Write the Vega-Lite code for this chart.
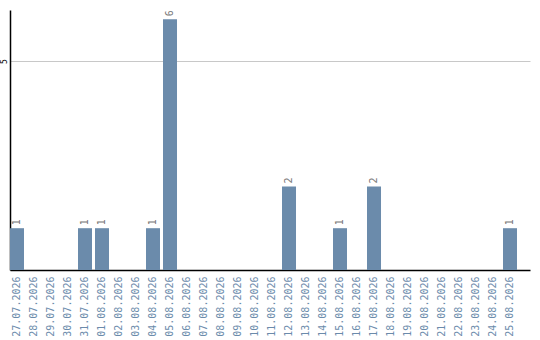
{
  "$schema": "https://vega.github.io/schema/vega-lite/v6.json",
  "width": 520,
  "height": 260,
  "autosize": {"type": "none"},
  "padding": {"left": 10, "top": 10, "right": 10, "bottom": 70},
  "background": "white",
  "config": {
    "view": {"stroke": null},
    "font": "DejaVu Sans Mono"
  },
  "data": {
    "values": [
      {"date": "27.07.2026", "count": 1},
      {"date": "28.07.2026", "count": 0},
      {"date": "29.07.2026", "count": 0},
      {"date": "30.07.2026", "count": 0},
      {"date": "31.07.2026", "count": 1},
      {"date": "01.08.2026", "count": 1},
      {"date": "02.08.2026", "count": 0},
      {"date": "03.08.2026", "count": 0},
      {"date": "04.08.2026", "count": 1},
      {"date": "05.08.2026", "count": 6},
      {"date": "06.08.2026", "count": 0},
      {"date": "07.08.2026", "count": 0},
      {"date": "08.08.2026", "count": 0},
      {"date": "09.08.2026", "count": 0},
      {"date": "10.08.2026", "count": 0},
      {"date": "11.08.2026", "count": 0},
      {"date": "12.08.2026", "count": 2},
      {"date": "13.08.2026", "count": 0},
      {"date": "14.08.2026", "count": 0},
      {"date": "15.08.2026", "count": 1},
      {"date": "16.08.2026", "count": 0},
      {"date": "17.08.2026", "count": 2},
      {"date": "18.08.2026", "count": 0},
      {"date": "19.08.2026", "count": 0},
      {"date": "20.08.2026", "count": 0},
      {"date": "21.08.2026", "count": 0},
      {"date": "22.08.2026", "count": 0},
      {"date": "23.08.2026", "count": 0},
      {"date": "24.08.2026", "count": 0},
      {"date": "25.08.2026", "count": 1}
    ]
  },
  "encoding": {
    "x": {
      "field": "date",
      "type": "ordinal",
      "sort": null,
      "scale": {"paddingInner": 0.176, "paddingOuter": 0.382, "align": 0},
      "axis": {
        "title": null,
        "labelAngle": -90,
        "labelAlign": "right",
        "labelBaseline": "middle",
        "labelColor": "#6b8bab",
        "labelFont": "DejaVu Sans Mono",
        "labelFontSize": 10,
        "labelPadding": 6,
        "ticks": false,
        "domainColor": "#000000",
        "domainWidth": 1.5,
        "grid": false
      }
    },
    "y": {
      "field": "count",
      "type": "quantitative",
      "scale": {"domain": [0, 6.22], "nice": false},
      "axis": {
        "title": null,
        "values": [5],
        "labelAngle": -90,
        "labelAlign": "center",
        "labelBaseline": "bottom",
        "labelFontSize": 8,
        "labelColor": "#000000",
        "labelPadding": 2,
        "ticks": false,
        "domainColor": "#000000",
        "domainWidth": 1.5,
        "grid": true,
        "gridColor": "#c8c8c8",
        "gridWidth": 1
      }
    }
  },
  "layer": [
    {
      "mark": {"type": "bar", "color": "#6b8bab"}
    },
    {
      "transform": [{"filter": "datum.count > 0"}],
      "mark": {
        "type": "text",
        "angle": 270,
        "align": "left",
        "baseline": "middle",
        "dx": 3,
        "fontSize": 10,
        "color": "#777777"
      },
      "encoding": {
        "text": {"field": "count", "type": "quantitative"}
      }
    }
  ]
}
